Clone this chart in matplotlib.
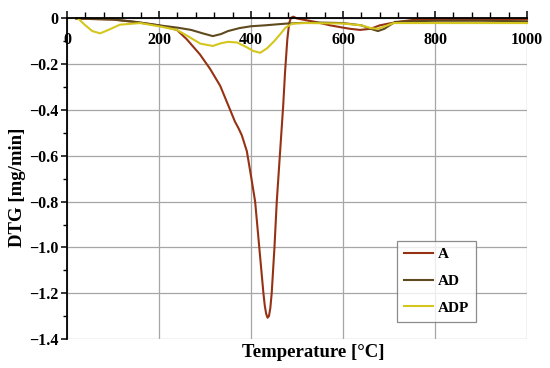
import matplotlib
matplotlib.use('Agg')
import matplotlib.pyplot as plt
from matplotlib.ticker import MultipleLocator, FuncFormatter

# temperature [C] and DTG [mg/min]
temp_a = [20, 60, 100, 150, 200, 239, 260, 289, 311, 333, 354, 365, 373, 380, 391, 401,
          409, 418, 427, 430, 433, 436, 439, 442, 445, 451, 456, 460, 466, 470, 474, 479,
          483, 487, 492, 500, 513, 540, 572, 600, 615, 637, 660, 680, 700, 724, 757, 800,
          900, 1000]
dtg_a = [0.0, -0.003, -0.005, -0.016, -0.03, -0.05, -0.09, -0.157, -0.22, -0.294,
         -0.396, -0.45, -0.48, -0.51, -0.58, -0.70, -0.80, -1.0, -1.2, -1.255, -1.29,
         -1.307, -1.30, -1.265, -1.2, -1.0, -0.8, -0.68, -0.5, -0.38, -0.235, -0.09,
         -0.02, 0.003, 0.008, 0.0, -0.005, -0.015, -0.03, -0.04, -0.045, -0.05, -0.045,
         -0.03, -0.022, -0.014, -0.005, -0.002, -0.002, -0.002]

temp_ad = [20, 60, 100, 150, 200, 240, 270, 295, 317, 335, 350, 375, 400, 430, 460,
           480, 500, 550, 600, 640, 660, 676, 690, 713, 750, 800, 900, 1000]
dtg_ad = [0.0, -0.002, -0.004, -0.015, -0.03, -0.04, -0.05, -0.065, -0.077, -0.068,
          -0.055, -0.042, -0.034, -0.03, -0.025, -0.022, -0.02, -0.018, -0.02, -0.03,
          -0.045, -0.055, -0.045, -0.015, -0.012, -0.01, -0.01, -0.012]

temp_adp = [24, 40, 55, 72, 90, 115, 159, 202, 239, 265, 290, 317, 335, 350, 370,
            390, 405, 420, 435, 450, 463, 475, 490, 520, 600, 640, 660, 675, 690, 710,
            800, 900, 1000]
dtg_adp = [0.0, -0.03, -0.055, -0.065, -0.05, -0.027, -0.02, -0.035, -0.05, -0.08,
           -0.11, -0.12, -0.108, -0.102, -0.105, -0.125, -0.142, -0.15, -0.13, -0.1,
           -0.07, -0.04, -0.022, -0.02, -0.022, -0.03, -0.042, -0.045, -0.035, -0.02,
           -0.02, -0.02, -0.02]

series = ['A', 'AD', 'ADP']
colors = ['#963214', '#5e4a1e', '#d4c61c']

plt.rcParams['font.family'] = ['Liberation Serif', 'DejaVu Serif']
plt.rcParams['font.weight'] = 'bold'

fig = plt.figure(figsize=(5.5, 3.68), dpi=100)
ax = fig.add_axes([0.1218, 0.0788, 0.8364, 0.871])

for t, v, name, c in zip([temp_a, temp_ad, temp_adp], [dtg_a, dtg_ad, dtg_adp], series, colors):
    ax.plot(t, v, color=c, lw=1.5, label=name, clip_on=False, zorder=3)

ax.set_xlim(0, 1000)
ax.set_ylim(-1.4, 0)

ax.spines['left'].set_position(('data', 0))
ax.spines['bottom'].set_position(('data', 0))
ax.spines['top'].set_visible(False)
ax.spines['right'].set_visible(False)
ax.spines['bottom'].set_zorder(4)
for s in ['left', 'bottom']:
    ax.spines[s].set_linewidth(1.3)

ax.xaxis.set_major_locator(MultipleLocator(200))
ax.xaxis.set_minor_locator(MultipleLocator(40))
ax.yaxis.set_major_locator(MultipleLocator(0.2))
ax.yaxis.set_minor_locator(MultipleLocator(0.1))

ax.yaxis.set_major_formatter(FuncFormatter(lambda v, p: '0' if abs(v) < 1e-9 else ('%.1f' % v).replace('-', '\u2212')))

ax.tick_params(axis='x', which='major', direction='in', length=5, width=1.1, pad=10, labelsize=11.5)
ax.tick_params(axis='x', which='minor', direction='in', length=4, width=1.0)
ax.tick_params(axis='y', which='major', direction='out', length=4, width=1.1, pad=2, labelsize=11.5)
ax.tick_params(axis='y', which='minor', direction='out', length=3, width=1.0)

ax.grid(True, which='major', color='#a6a6a6', lw=0.9, zorder=0)
ax.set_axisbelow(True)

fig.text(0.569, 0.043, 'Temperature [°C]', ha='center', va='center', fontsize=13.5, fontweight='bold')
fig.text(0.032, 0.49, 'DTG [mg/min]', ha='center', va='center', rotation=90, fontsize=13.5, fontweight='bold')

leg = ax.legend(loc='lower left', bbox_to_anchor=(0.718, 0.054), fontsize=11, frameon=True,
                fancybox=False, edgecolor='#707070', handlelength=1.9, labelspacing=0.85,
                handletextpad=0.3, borderpad=0.45, borderaxespad=0)
leg.get_frame().set_linewidth(0.9)

fig.savefig('out.png', dpi=100)
